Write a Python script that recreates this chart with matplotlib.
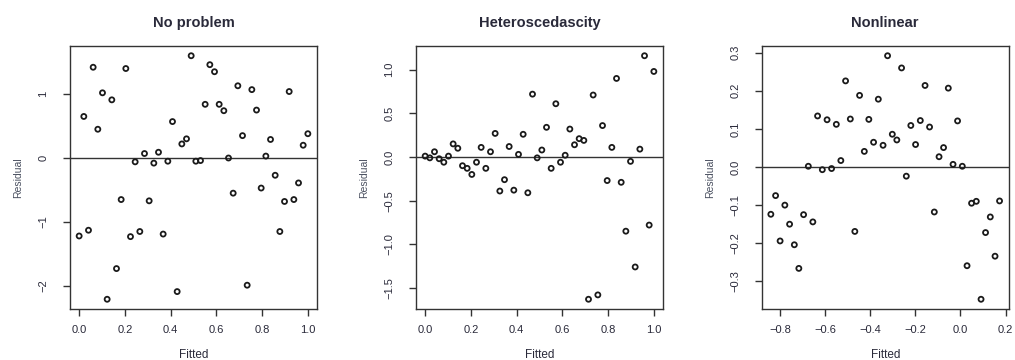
import matplotlib
matplotlib.use("Agg")
import matplotlib.pyplot as plt
import numpy as np

plt.rcParams['font.family'] = ['Liberation Sans', 'DejaVu Sans']
plt.rcParams['axes.unicode_minus'] = True

# ---------------- data ----------------
titles = ["No problem", "Heteroscedascity", "Nonlinear"]

fitted_1 = [i / 49 for i in range(50)]
resid_1 = [-1.22, 0.65, -1.13, 1.42, 0.45, 1.02, -2.21, 0.91, -1.73, -0.65,
           1.40, -1.23, -0.06, -1.15, 0.07, -0.67, -0.08, 0.09, -1.19, -0.05,
           0.57, -2.09, 0.22, 0.30, 1.60, -0.05, -0.04, 0.84, 1.46, 1.35,
           0.84, 0.74, 0.00, -0.55, 1.13, 0.35, -1.99, 1.07, 0.75, -0.47,
           0.03, 0.29, -0.27, -1.15, -0.68, 1.04, -0.65, -0.39, 0.20, 0.38]

fitted_2 = [i / 49 for i in range(50)]
resid_2 = [0.01, -0.01, 0.06, -0.02, -0.06, 0.01, 0.15, 0.10, -0.10, -0.13,
           -0.20, -0.06, 0.11, -0.13, 0.06, 0.27, -0.39, -0.26, 0.12, -0.38,
           0.03, 0.26, -0.41, 0.72, -0.01, 0.08, 0.34, -0.13, 0.61, -0.06,
           0.02, 0.32, 0.14, 0.21, 0.19, -1.63, 0.71, -1.58, 0.36, -0.27,
           0.11, 0.90, -0.29, -0.85, -0.05, -1.26, 0.09, 1.16, -0.78, 0.98]

fitted_3 = [-0.840, -0.819, -0.799, -0.778, -0.757, -0.736, -0.716, -0.695, -0.674, -0.654,
            -0.633, -0.612, -0.591, -0.571, -0.550, -0.530, -0.509, -0.488, -0.468, -0.447,
            -0.426, -0.406, -0.385, -0.364, -0.343, -0.323, -0.302, -0.282, -0.261, -0.240,
            -0.220, -0.199, -0.178, -0.157, -0.137, -0.116, -0.095, -0.075, -0.054, -0.033,
            -0.013, 0.008, 0.029, 0.049, 0.070, 0.091, 0.111, 0.132, 0.153, 0.173]
resid_3 = [-0.124, -0.075, -0.194, -0.100, -0.150, -0.204, -0.266, -0.125, 0.002, -0.144,
           0.134, -0.007, 0.124, -0.004, 0.112, 0.017, 0.226, 0.126, -0.169, 0.188,
           0.041, 0.125, 0.065, 0.178, 0.057, 0.292, 0.086, 0.071, 0.260, -0.024,
           0.109, 0.059, 0.122, 0.214, 0.105, -0.118, 0.027, 0.051, 0.207, 0.007,
           0.121, 0.002, -0.259, -0.095, -0.090, -0.347, -0.172, -0.131, -0.234, -0.089]

xticks = [[0.0, 0.2, 0.4, 0.6, 0.8, 1.0],
          [0.0, 0.2, 0.4, 0.6, 0.8, 1.0],
          [-0.8, -0.6, -0.4, -0.2, 0.0, 0.2]]
yticks = [[-2, -1, 0, 1],
          [-1.5, -1.0, -0.5, 0.0, 0.5, 1.0],
          [-0.3, -0.2, -0.1, 0.0, 0.1, 0.2, 0.3]]
xtick_labels = [["0.0", "0.2", "0.4", "0.6", "0.8", "1.0"],
                ["0.0", "0.2", "0.4", "0.6", "0.8", "1.0"],
                ["\u22120.8", "\u22120.6", "\u22120.4", "\u22120.2", "0.0", "0.2"]]
ytick_labels = [["\u22122", "\u22121", "0", "1"],
                ["\u22121.5", "\u22121.0", "\u22120.5", "0.0", "0.5", "1.0"],
                ["\u22120.3", "\u22120.2", "\u22120.1", "0.0", "0.1", "0.2", "0.3"]]

xs = [fitted_1, fitted_2, fitted_3]
ys = [resid_1, resid_2, resid_3]

# ---------------- plot ----------------
W, H = 1015, 360
fig = plt.figure(figsize=(W / 100, H / 100), dpi=100)
lefts = [70, 416, 761.7]
ax_w = 247
top, bottom = 46, 309
text_col = '#2a2a3a'
label_col = '#4a5060'

def rext(v):
    lo, hi = min(v), max(v)
    d = (hi - lo) * 0.04
    return lo - d, hi + d

for i in range(3):
    ax = fig.add_axes([lefts[i] / W, 1 - bottom / H, ax_w / W, (bottom - top) / H])
    ax.scatter(xs[i], ys[i], s=13, facecolors='none', edgecolors='#1a1a1a', linewidths=1.3, zorder=3)
    ax.axhline(0, color='#333333', lw=1.0, zorder=2)
    ax.set_xlim(*rext(xs[i]))
    ax.set_ylim(*rext(ys[i]))
    ax.set_xticks(xticks[i])
    ax.set_xticklabels(xtick_labels[i])
    ax.set_yticks(yticks[i])
    ax.set_yticklabels(ytick_labels[i], rotation=90, va='center')
    ax.tick_params(direction='out', length=5, width=1, color='#333333',
                   labelsize=8, labelcolor=text_col)
    ax.tick_params(axis='x', pad=6.5)
    ax.tick_params(axis='y', pad=10.5)
    for sp in ax.spines.values():
        sp.set_color('#333333')
        sp.set_linewidth(1.0)
    ax.set_title(titles[i], fontsize=10.5, fontweight='bold', color=text_col, pad=14)
    ax.set_xlabel("Fitted", fontsize=8.5, color=text_col, labelpad=10)
    ax.set_ylabel("Residual", fontsize=7.5, color=label_col, labelpad=11)

fig.savefig("out.png", dpi=100)
